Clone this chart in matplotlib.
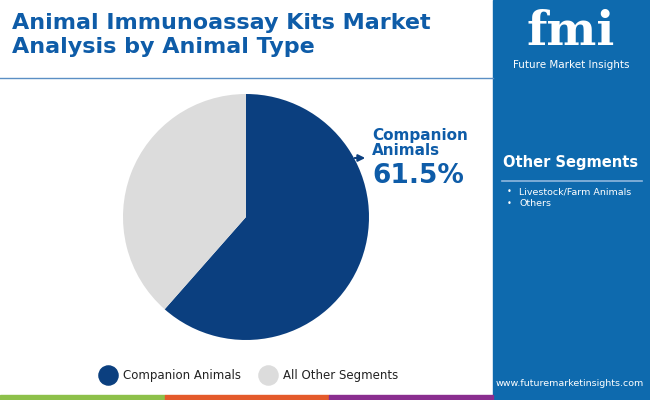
import matplotlib.pyplot as plt
from matplotlib.patches import Rectangle

segments = ['Companion Animals', 'All Other Segments']
shares = [61.5, 38.5]
colors = ['#0B3F7F', '#DCDCDC']
other_items = ['Livestock/Farm Animals', 'Others']

W, H = 650, 400
fig = plt.figure(figsize=(6.5, 4.0), dpi=100)
bg = fig.add_axes([0, 0, 1, 1])
bg.set_xlim(0, W)
bg.set_ylim(H, 0)
bg.axis('off')

panel = '#0E6AAE'
bg.add_patch(Rectangle((493, 0), W - 493, H, color=panel))
for x0, x1, c in [(0, 165, '#8DC04A'), (165, 329, '#E45A2B'), (329, 493, '#8A2E8F')]:
    bg.add_patch(Rectangle((x0, 395), x1 - x0, 5, color=c))
bg.plot([0, 493], [78, 78], color='#5B8FC4', lw=1)

bg.text(12, 35, 'Animal Immunoassay Kits Market\nAnalysis by Animal Type', color='#0E5CA8',
        fontsize=16, fontweight='bold', va='center', ha='left', family='DejaVu Sans', linespacing=1.2)

# right panel
bg.text(571, 32, 'fmi', color='white', fontsize=34, fontweight='bold', ha='center', va='center',
        family='DejaVu Serif')
bg.text(571, 65, 'Future Market Insights', color='white', fontsize=7.5, ha='center', va='center')
bg.text(571, 163, 'Other Segments', color='white', fontsize=10.5, fontweight='bold', ha='center', va='center')
bg.plot([502, 642], [181, 181], color='#8FB8DE', lw=1.2)
for i, item in enumerate(other_items):
    bg.text(507, 192 + i * 12, '\u2022', color='white', fontsize=6, va='center')
    bg.text(519, 192 + i * 12, item, color='white', fontsize=6.8, va='center')
bg.text(570, 383, 'www.futuremarketinsights.com', color='white', fontsize=6.8, ha='center', va='center')

# pie
ax = fig.add_axes([(246 - 123) / W, 1 - (217 + 123) / H, 246 / W, 246 / H])
ax.pie(shares, colors=colors, startangle=90, counterclock=False, radius=1)
ax.set_xlim(-1, 1)
ax.set_ylim(-1, 1)
ax.set_aspect('equal')

bg.annotate('', xy=(368, 158), xytext=(352, 158),
            arrowprops=dict(arrowstyle='-|>', color='#0B3F7F', lw=1.5))
bg.text(372, 143, 'Companion\nAnimals', color='#0E5CA8', fontsize=11, fontweight='bold',
        va='center', ha='left', linespacing=1.0)
bg.text(372, 176, f'{shares[0]}%', color='#0E5CA8', fontsize=19, fontweight='bold',
        va='center', ha='left')

# legend
for x, lab, c in [(108, segments[0], colors[0]), (268, segments[1], colors[1])]:
    bg.scatter([x], [375], s=190, color=c)
    bg.text(x + 15, 375, lab, fontsize=8.5, color='#222222', va='center')

fig.savefig('out.png', dpi=100)
